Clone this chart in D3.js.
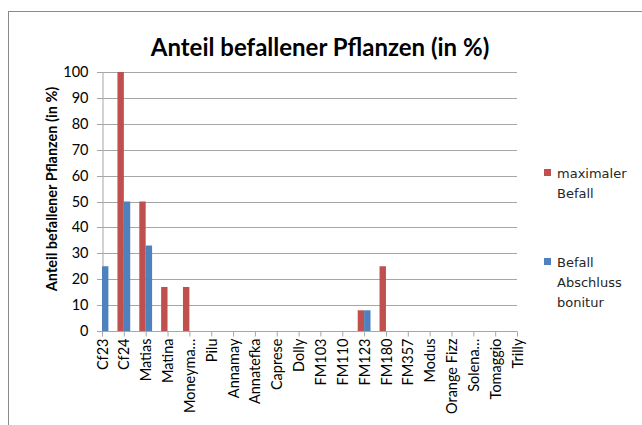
<!DOCTYPE html>
<html>
<head>
<meta charset="utf-8">
<script src="https://cdn.jsdelivr.net/npm/d3@7"></script>
<style>
  body { margin: 0; background: #fff; }
  svg { display: block; font-family: Lato, "Open Sans", sans-serif; }
  .legend-text { font-family: "DejaVu Sans", Verdana, sans-serif; font-size: 13px; fill: #262626; }
</style>
</head>
<body>
<div id="chart"></div>
<script>
const categories = ['Cf23', 'Cf24', 'Matias', 'Matina', 'Moneyma…', 'Pilu', 'Annamay', 'Annatefka',
  'Caprese', 'Dolly', 'FM103', 'FM110', 'FM123', 'FM180', 'FM357', 'Modus', 'Orange Fizz',
  'Solena…', 'Tomaggio', 'Trilly'];
const maxBefall = [0, 100, 50, 17, 17, 0, 0, 0, 0, 0, 0, 0, 8, 25, 0, 0, 0, 0, 0, 0];
const abschlussBefall = [25, 50, 33, 0, 0, 0, 0, 0, 0, 0, 0, 0, 8, 0, 0, 0, 0, 0, 0, 0];
const yTicks = [0, 10, 20, 30, 40, 50, 60, 70, 80, 90, 100];
const seriesNames = [['maximaler', 'Befall'], ['Befall', 'Abschluss', 'bonitur']];

const width = 642, height = 425;
const colors = ['#c0504d', '#4f81bd'];
const gridColor = '#a6a6a6';
const textColor = '#000';

const svg = d3.select('#chart').append('svg')
  .attr('width', width)
  .attr('height', height);

// chart frame
svg.append('rect')
  .attr('x', 8.5).attr('y', 11.5)
  .attr('width', 700).attr('height', 500)
  .attr('fill', '#fff')
  .attr('stroke', '#8a8a8a')
  .attr('stroke-width', 1);

const x = d3.scalePoint()
  .domain(categories)
  .range([102, 517]);

const y = d3.scaleLinear()
  .domain([0, 100])
  .range([331, 72]);

const barW = 6.4;

// gridlines
svg.selectAll('.grid')
  .data(yTicks)
  .enter().append('line')
  .attr('x1', 97).attr('x2', 517)
  .attr('y1', d => Math.round(y(d)) + 0.5)
  .attr('y2', d => Math.round(y(d)) + 0.5)
  .attr('stroke', gridColor)
  .attr('stroke-width', 1);

// y axis
const yAxis = svg.append('g')
  .attr('transform', 'translate(102.5,0.5)')
  .call(d3.axisLeft(y).tickValues(yTicks).tickSize(5).tickSizeOuter(0));
yAxis.select('.domain').attr('stroke', gridColor);
yAxis.selectAll('.tick line').attr('stroke', gridColor);
yAxis.selectAll('.tick').attr('transform', d => `translate(0,${Math.round(y(d))})`);
yAxis.selectAll('text')
  .attr('x', -14)
  .style('font-size', '14.5px')
  .style('font-family', 'Lato, sans-serif')
  .attr('fill', textColor);

// bars
const series = [maxBefall, abschlussBefall];
series.forEach((vals, s) => {
  svg.selectAll('.bar' + s)
    .data(categories.map((c, i) => ({ c, v: vals[i] })))
    .enter().append('rect')
    .attr('x', d => x(d.c) + (s === 0 ? -barW : 0))
    .attr('y', d => y(d.v))
    .attr('width', barW)
    .attr('height', d => y(0) - y(d.v))
    .attr('fill', colors[s]);
});

// x axis
const xAxis = svg.append('g')
  .attr('transform', 'translate(0,331.5)')
  .call(d3.axisBottom(x).tickSize(5).tickSizeOuter(0));
xAxis.select('.domain').attr('stroke', gridColor).attr('d', 'M102,0H517');
xAxis.selectAll('.tick line').attr('stroke', gridColor);
xAxis.selectAll('text')
  .attr('transform', 'rotate(-90)')
  .attr('text-anchor', 'end')
  .attr('x', -7)
  .attr('y', 0)
  .attr('dy', '0.35em')
  .style('font-size', '14.5px')
  .style('font-family', 'Lato, sans-serif')
  .attr('fill', textColor);

// title
svg.append('text')
  .attr('x', 320).attr('y', 56)
  .attr('text-anchor', 'middle')
  .style('font-size', '24px')
  .style('font-weight', 'bold')
  .text('Anteil befallener Pflanzen (in %)');

// y axis title
svg.append('text')
  .attr('transform', 'translate(57,189) rotate(-90)')
  .attr('text-anchor', 'middle')
  .style('font-size', '14.5px')
  .style('font-weight', 'bold')
  .text('Anteil befallener Pflanzen (in %)');

// legend
const legendY = [169, 258];
seriesNames.forEach((lines, s) => {
  const g = svg.append('g').attr('transform', `translate(544,${legendY[s]})`);
  g.append('rect').attr('width', 7).attr('height', 7).attr('fill', colors[s]);
  lines.forEach((t, k) => {
    g.append('text')
      .attr('class', 'legend-text')
      .attr('x', 13).attr('y', 9 + k * 20)
      .text(t);
  });
});
</script>
</body>
</html>
